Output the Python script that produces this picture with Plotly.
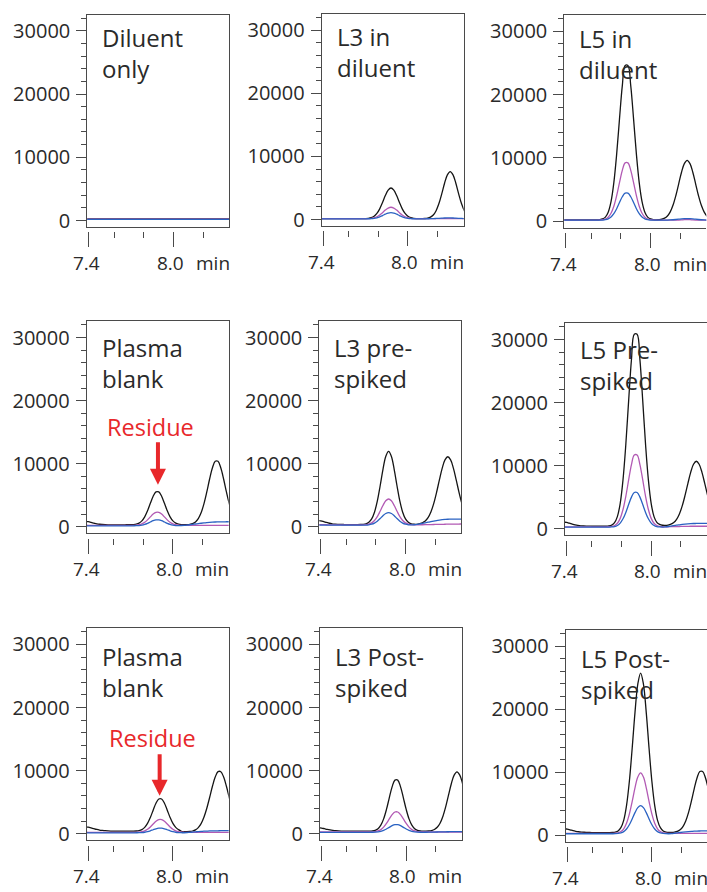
import plotly.graph_objects as go

# ---------------- data ----------------
time_min = [7.38, 7.40, 7.42, 7.44, 7.46, 7.48, 7.50, 7.52, 7.54, 7.56,
            7.58, 7.60, 7.62, 7.64, 7.66, 7.68, 7.70, 7.72, 7.74, 7.76,
            7.78, 7.80, 7.82, 7.84, 7.86, 7.88, 7.90, 7.92, 7.94, 7.96,
            7.98, 8.00, 8.02, 8.04, 8.06, 8.08, 8.10, 8.12, 8.14, 8.16,
            8.18, 8.20, 8.22, 8.24, 8.26, 8.28, 8.30, 8.32, 8.34, 8.36,
            8.38, 8.40, 8.42]

panel_titles = ["Diluent<br>only", "L3 in<br>diluent", "L5 in<br>diluent",
                "Plasma<br>blank", "L3 pre-<br>spiked", "L5 Pre-<br>spiked",
                "Plasma<br>blank", "L3 Post-<br>spiked", "L5 Post-<br>spiked"]

y_tick_values = [0, 10000, 20000, 30000]
y_tick_labels = ["0", "10000", "20000", "30000"]
x_major_ticks = [7.4, 8.0]
x_tick_labels = ["7.4", "8.0"]
x_minor_ticks = [7.58, 7.79, 8.21]
x_unit = "min"
residue_label = "Residue"

# Row 1 ---------------------------------------------------------------
diluent_only_black = [250, 255, 245, 250, 260, 250, 245, 255, 250, 245,
                      250, 260, 255, 250, 245, 250, 255, 250, 260, 255,
                      250, 245, 250, 255, 260, 250, 245, 250, 255, 250,
                      245, 250, 260, 255, 250, 245, 250, 255, 250, 260,
                      255, 250, 245, 250, 255, 250, 260, 255, 250, 245,
                      250, 255, 250]
diluent_only_purple = [215, 220, 215, 210, 215, 220, 215, 210, 220, 215,
                       210, 215, 220, 215, 210, 215, 220, 215, 210, 215,
                       220, 215, 210, 215, 220, 215, 210, 215, 220, 215,
                       210, 215, 220, 215, 210, 215, 220, 215, 210, 215,
                       220, 215, 210, 215, 220, 215, 210, 215, 220, 215,
                       210, 215, 220]
diluent_only_blue = [190, 185, 190, 195, 190, 185, 190, 195, 190, 185,
                     190, 195, 190, 185, 190, 195, 190, 185, 190, 195,
                     190, 185, 190, 195, 190, 185, 190, 195, 190, 185,
                     190, 195, 190, 185, 190, 195, 190, 185, 190, 195,
                     190, 185, 190, 195, 190, 185, 190, 195, 190, 185,
                     190, 195, 190]

l3_diluent_black = [150, 150, 150, 150, 150, 150, 150, 150, 150, 150,
                    150, 150, 150, 150, 150, 154, 165, 201, 300, 523,
                    970, 1702, 2706, 3797, 4665, 5000, 4665, 3797, 2706, 1702,
                    970, 523, 300, 201, 165, 154, 156, 172, 228, 381,
                    724, 1409, 2534, 4076, 5752, 7086, 7600, 7086, 5752, 4076,
                    2534, 1409, 724]
l3_diluent_purple = [150, 150, 150, 150, 150, 150, 150, 150, 150, 150,
                     150, 150, 150, 150, 150, 151, 155, 169, 206, 289,
                     454, 726, 1099, 1504, 1826, 1950, 1826, 1504, 1099, 726,
                     454, 289, 206, 169, 155, 151, 150, 150, 150, 150,
                     150, 150, 150, 150, 150, 150, 150, 150, 150, 150,
                     150, 150, 150]
l3_diluent_blue = [120, 120, 120, 120, 120, 120, 120, 120, 120, 120,
                   120, 120, 120, 120, 120, 121, 123, 130, 150, 195,
                   286, 434, 636, 857, 1032, 1100, 1032, 857, 636, 434,
                   286, 195, 150, 130, 123, 121, 122, 125, 130, 140,
                   156, 177, 204, 232, 255, 268, 268, 255, 232, 204,
                   177, 156, 140]

l5_diluent_black = [200, 200, 200, 200, 200, 200, 200, 200, 200, 200,
                    200, 200, 200, 237, 349, 647, 1418, 3083, 6089, 10587,
                    16129, 21372, 24603, 24603, 21372, 16129, 10587, 6089, 3083, 1418,
                    647, 349, 240, 211, 237, 303, 473, 820, 1469, 2541,
                    4063, 5906, 7729, 9092, 9600, 9092, 7729, 5906, 4063, 2541,
                    1469, 820, 473]
l5_diluent_purple = [180, 180, 180, 180, 180, 180, 180, 180, 180, 180,
                     180, 180, 180, 194, 235, 346, 631, 1247, 2360, 4026,
                     6077, 8018, 9214, 9214, 8018, 6077, 4026, 2360, 1247, 631,
                     346, 235, 194, 180, 180, 180, 180, 180, 180, 180,
                     180, 180, 200, 230, 240, 230, 200, 180, 180, 180,
                     180, 180, 180]
l5_diluent_blue = [150, 150, 150, 150, 150, 150, 150, 150, 150, 150,
                   150, 150, 150, 157, 176, 228, 363, 655, 1181, 1968,
                   2938, 3856, 4422, 4422, 3856, 2938, 1968, 1181, 655, 363,
                   228, 176, 157, 152, 152, 155, 162, 175, 196, 227,
                   267, 313, 357, 389, 400, 389, 357, 313, 267, 227,
                   196, 175, 162]

# Row 2 ---------------------------------------------------------------
plasma_blank_a_black = [850, 800, 700, 580, 470, 400, 360, 330, 310, 300,
                        300, 300, 300, 310, 315, 320, 328, 352, 415, 580,
                        935, 1576, 2535, 3717, 4836, 5525, 5525, 4836, 3717, 2535,
                        1576, 935, 580, 415, 352, 334, 342, 388, 504, 769,
                        1299, 2217, 3635, 5481, 7531, 9316, 10377, 10377, 9316, 7531,
                        5481, 3635, 2217]
plasma_blank_a_purple = [240, 235, 230, 225, 220, 220, 220, 220, 220, 220,
                         220, 220, 220, 220, 220, 220, 223, 233, 258, 323,
                         464, 718, 1098, 1566, 2009, 2282, 2282, 2009, 1566, 1098,
                         718, 464, 323, 258, 233, 223, 220, 220, 220, 220,
                         220, 220, 220, 220, 220, 220, 220, 220, 220, 220,
                         220, 220, 220]
plasma_blank_a_blue = [150, 150, 150, 150, 150, 150, 150, 150, 150, 150,
                       150, 150, 150, 150, 150, 150, 151, 156, 167, 197,
                       260, 375, 547, 759, 959, 1083, 1083, 959, 759, 547,
                       375, 260, 197, 180, 200, 230, 270, 320, 380, 440,
                       500, 560, 620, 670, 710, 740, 760, 775, 785, 790,
                       795, 800, 800]

l3_pre_black = [1000, 940, 820, 680, 560, 470, 420, 390, 370, 360,
                350, 350, 350, 350, 350, 359, 385, 472, 710, 1243,
                2310, 4062, 6463, 9073, 11150, 11950, 11150, 9073, 6463, 4062,
                2310, 1243, 710, 472, 397, 394, 494, 635, 914, 1449,
                2347, 3674, 5418, 7387, 9249, 10608, 11100, 10608, 9249, 7387,
                5418, 3674, 2347]
l3_pre_purple = [350, 340, 330, 320, 310, 300, 300, 300, 300, 300,
                 300, 300, 300, 300, 300, 303, 312, 343, 427, 616,
                 993, 1612, 2461, 3383, 4117, 4400, 4117, 3383, 2461, 1612,
                 993, 616, 427, 343, 312, 303, 310, 320, 330, 340,
                 350, 360, 370, 380, 390, 400, 410, 420, 425, 430,
                 435, 440, 440]
l3_pre_blue = [250, 250, 250, 250, 250, 250, 250, 250, 250, 250,
               250, 250, 250, 250, 250, 252, 256, 271, 312, 404,
               588, 890, 1304, 1754, 2112, 2250, 2112, 1754, 1304, 890,
               588, 404, 312, 290, 320, 370, 450, 530, 620, 720,
               820, 910, 990, 1060, 1120, 1160, 1190, 1200, 1210, 1210,
               1210, 1200, 1200]

l5_pre_black = [1050, 1000, 880, 740, 620, 530, 470, 440, 420, 410,
                400, 400, 400, 400, 400, 400, 447, 586, 958, 1919,
                3996, 7747, 13358, 20271, 26812, 30842, 30842, 26812, 20271, 13358,
                7747, 3996, 1919, 1008, 686, 558, 534, 590, 724, 990,
                1500, 2356, 3621, 5284, 7161, 8935, 10231, 10700, 10231, 8935,
                7161, 5284, 3621]
l5_pre_purple = [300, 300, 300, 300, 300, 300, 300, 300, 300, 300,
                 300, 300, 300, 300, 300, 300, 317, 370, 509, 868,
                 1646, 3049, 5149, 7736, 10183, 11691, 11691, 10183, 7736, 5149,
                 3049, 1646, 868, 509, 370, 317, 310, 320, 330, 340,
                 350, 360, 370, 380, 390, 400, 400, 400, 400, 400,
                 400, 400, 400]
l5_pre_blue = [250, 250, 250, 250, 250, 250, 250, 250, 250, 250,
               250, 250, 250, 250, 250, 250, 258, 284, 351, 524,
               900, 1577, 2591, 3840, 5021, 5749, 5749, 5021, 3840, 2591,
               1577, 900, 524, 351, 284, 258, 300, 360, 430, 500,
               570, 630, 690, 740, 780, 810, 830, 840, 850, 850,
               850, 850, 850]

# Row 3 ---------------------------------------------------------------
plasma_blank_b_black = [1100, 1050, 930, 800, 680, 590, 530, 480, 450, 430,
                        420, 410, 400, 400, 400, 400, 400, 408, 431, 494,
                        655, 1003, 1632, 2574, 3733, 4830, 5506, 5506, 4830, 3733,
                        2574, 1632, 1003, 655, 394, 331, 326, 353, 435, 618,
                        976, 1603, 2606, 3996, 5704, 7480, 8975, 9834, 9834, 8975,
                        7480, 5704, 3996]
plasma_blank_b_purple = [240, 230, 225, 220, 220, 220, 220, 220, 220, 220,
                         220, 220, 220, 220, 220, 220, 220, 223, 232, 257,
                         320, 458, 706, 1077, 1534, 1967, 2233, 2233, 1967, 1534,
                         1077, 706, 458, 320, 257, 232, 223, 220, 220, 220,
                         220, 220, 220, 220, 220, 220, 220, 220, 220, 220,
                         220, 220, 220]
plasma_blank_b_blue = [150, 150, 150, 150, 150, 150, 150, 150, 150, 150,
                       150, 150, 150, 150, 150, 150, 150, 150, 155, 164,
                       187, 237, 328, 464, 631, 789, 887, 887, 789, 631,
                       464, 328, 237, 187, 164, 155, 180, 220, 260, 300,
                       340, 370, 400, 420, 440, 450, 460, 470, 480, 480,
                       490, 490, 490]

l3_post_black = [950, 900, 800, 690, 600, 530, 480, 450, 430, 420,
                 410, 400, 400, 400, 400, 400, 400, 400, 412, 450,
                 549, 804, 1357, 2355, 3849, 5688, 7429, 8502, 8502, 7429,
                 5688, 3849, 2355, 1357, 804, 549, 450, 412, 411, 437,
                 503, 673, 1020, 1669, 2741, 4263, 6106, 7929, 9292, 9800,
                 9292, 7929, 6106]
l3_post_purple = [300, 290, 285, 280, 280, 280, 280, 280, 280, 280,
                  280, 280, 280, 280, 280, 280, 280, 280, 285, 299,
                  338, 438, 654, 1043, 1626, 2344, 3023, 3442, 3442, 3023,
                  2344, 1626, 1043, 654, 438, 338, 299, 285, 280, 280,
                  280, 280, 280, 280, 280, 280, 280, 280, 280, 280,
                  280, 280, 280]
l3_post_blue = [230, 230, 230, 230, 230, 230, 230, 230, 230, 230,
                230, 230, 230, 230, 230, 230, 230, 230, 232, 237,
                252, 290, 373, 522, 744, 1018, 1278, 1438, 1438, 1278,
                1018, 744, 522, 373, 290, 252, 237, 232, 240, 250,
                260, 270, 280, 290, 300, 310, 320, 330, 340, 350,
                350, 350, 350]

l5_post_black = [1050, 990, 870, 740, 640, 570, 520, 490, 470, 450,
                 440, 430, 430, 430, 430, 430, 430, 450, 506, 696,
                 1214, 2378, 4706, 8526, 13763, 19456, 23984, 25730, 23984, 19456,
                 13763, 8526, 4706, 2378, 1214, 696, 506, 457, 472, 516,
                 626, 881, 1391, 2273, 3635, 5409, 7379, 9094, 10113, 10113,
                 9094, 7379, 5409]
l5_post_purple = [300, 300, 300, 300, 300, 300, 300, 300, 300, 300,
                  300, 300, 300, 300, 300, 300, 300, 308, 329, 401,
                  598, 1039, 1922, 3372, 5359, 7519, 9238, 9900, 9238, 7519,
                  5359, 3372, 1922, 1039, 598, 401, 329, 308, 300, 300,
                  300, 300, 300, 300, 300, 300, 300, 300, 300, 300,
                  300, 300, 300]
l5_post_blue = [250, 250, 250, 250, 250, 250, 250, 250, 250, 250,
                250, 250, 250, 250, 250, 250, 250, 254, 263, 297,
                388, 593, 1002, 1674, 2595, 3596, 4393, 4700, 4393, 3596,
                2595, 1674, 1002, 593, 388, 297, 263, 254, 280, 330,
                390, 450, 510, 560, 600, 630, 660, 680, 690, 700,
                700, 700, 700]

# residue markers (panel index, label x/y, arrow x, arrow tail y, arrow tip y)
residue_panels = [4, 7]
residue_label_x = [7.838, 7.853]
residue_label_y = [15880, 15100]
residue_arrow_x = [7.894, 7.906]
residue_arrow_tail = [13630, 12850]
residue_arrow_tip = [6670, 6020]

panel_series = [
    (diluent_only_black, diluent_only_purple, diluent_only_blue),
    (l3_diluent_black, l3_diluent_purple, l3_diluent_blue),
    (l5_diluent_black, l5_diluent_purple, l5_diluent_blue),
    (plasma_blank_a_black, plasma_blank_a_purple, plasma_blank_a_blue),
    (l3_pre_black, l3_pre_purple, l3_pre_blue),
    (l5_pre_black, l5_pre_purple, l5_pre_blue),
    (plasma_blank_b_black, plasma_blank_b_purple, plasma_blank_b_blue),
    (l3_post_black, l3_post_purple, l3_post_blue),
    (l5_post_black, l5_post_purple, l5_post_blue),
]

# ---------------- layout geometry (pixels) ----------------
W, H = 707, 892
# (left, top, bottom) of each panel box in pixels
panel_box = [
    (87.3, 14.7, 228.7), (321.7, 14.0, 227.7), (564.3, 15.3, 229.3),
    (86.7, 324.0, 537.3), (319.3, 324.0, 537.3), (565.0, 326.0, 539.3),
    (86.7, 633.3, 846.7), (320.0, 633.3, 846.7), (565.7, 635.0, 848.3),
]
PANEL_W = 142.0
PX_PER_MIN = 141.0
TICK74_OFFSET = 1.6
Y_RANGE = [-1000, 32550]
title_yshift = [-4.5, -7.3, -10.0]

FONT = "Open Sans"
TEXT_COLOR = "#2a2a2a"
AXIS_COLOR = "#4a4a4a"
BLACK = "#151515"
PURPLE = "#b25ab4"
BLUE = "#2a62c2"
RED = "#e8282b"

fig = go.Figure()
annotations = []
layout = dict(
    width=W, height=H,
    margin=dict(l=0, r=0, t=0, b=0),
    paper_bgcolor="white", plot_bgcolor="white",
    showlegend=False,
    font=dict(family=FONT, color=TEXT_COLOR),
)

for i, (series, box) in enumerate(zip(panel_series, panel_box), start=1):
    sfx = "" if i == 1 else str(i)
    left, top, bottom = box
    col = (i - 1) % 3
    row = (i - 1) // 3
    right = min(left + PANEL_W, W)
    x0 = 7.4 - TICK74_OFFSET / PX_PER_MIN
    x1 = x0 + (right - left) / PX_PER_MIN
    xdom = [left / W, right / W]
    ydom = [1 - bottom / H, 1 - top / H]

    for vals, color in zip(series, (BLACK, PURPLE, BLUE)):
        fig.add_trace(go.Scatter(
            x=time_min, y=vals, mode="lines",
            line=dict(color=color, width=1.3, shape="spline"),
            xaxis="x" + sfx, yaxis="y" + sfx, hoverinfo="skip",
        ))

    tk = str(i + 9)
    # empty trace so that the detached tick bar axis gets drawn
    fig.add_trace(go.Scatter(x=[], y=[], mode="lines", xaxis="x" + tk,
                             yaxis="y" + sfx, hoverinfo="skip"))

    layout["xaxis" + sfx] = dict(
        domain=xdom, range=[x0, x1], anchor="y" + sfx,
        showline=True, linecolor=AXIS_COLOR, linewidth=1, mirror=True,
        ticks="", showticklabels=False, showgrid=False, zeroline=False,
    )
    layout["yaxis" + sfx] = dict(
        domain=ydom, range=Y_RANGE, anchor="x" + sfx,
        showline=True, linecolor=AXIS_COLOR, linewidth=1,
        mirror=(col < 2),
        tickmode="array", tickvals=y_tick_values, ticktext=y_tick_labels,
        ticks="outside", ticklen=10, tickwidth=1, tickcolor=AXIS_COLOR,
        tickfont=dict(family=FONT, size=20, color=TEXT_COLOR),
        ticklabelstandoff=2,
        minor=dict(ticks="outside", ticklen=5, tickwidth=1, tickcolor=AXIS_COLOR,
                   tick0=0, dtick=2000),
        showgrid=False, zeroline=False,
    )
    # detached time tick bar below the box
    layout["xaxis" + tk] = dict(
        overlaying="x" + sfx, anchor="free",
        position=1 - (bottom + 4.5) / H,
        range=[x0, x1], showline=False, showgrid=False, zeroline=False,
        tickmode="array", tickvals=x_major_ticks, ticks="outside",
        ticklen=15, tickwidth=1, tickcolor=AXIS_COLOR, showticklabels=False,
        minor=dict(ticks="outside", tickmode="array", tickvals=x_minor_ticks,
                   ticklen=6, tickwidth=1, tickcolor=AXIS_COLOR),
    )

    # panel title
    annotations.append(dict(
        text=panel_titles[i - 1], xref="x" + sfx + " domain", yref="y" + sfx + " domain",
        x=0, y=1, xanchor="left", yanchor="top", xshift=13, yshift=title_yshift[row],
        align="left", showarrow=False,
        font=dict(family=FONT, size=24, color=TEXT_COLOR),
    ))
    # time labels
    for val, lab, shift in zip(x_major_ticks, x_tick_labels, (-2, -3.5)):
        annotations.append(dict(
            text=lab, xref="x" + sfx, yref="y" + sfx + " domain",
            x=val, y=0, xanchor="center", yanchor="middle",
            xshift=shift, yshift=-36, showarrow=False,
            font=dict(family=FONT, size=19, color=TEXT_COLOR),
        ))
    annotations.append(dict(
        text=x_unit, xref="x" + sfx, yref="y" + sfx + " domain",
        x=x_major_ticks[1], y=0, xanchor="left", yanchor="middle",
        xshift=20, yshift=-36, showarrow=False,
        font=dict(family=FONT, size=19, color=TEXT_COLOR),
    ))

for p, lx, ly, axx, tail, tip in zip(residue_panels, residue_label_x, residue_label_y,
                                     residue_arrow_x, residue_arrow_tail, residue_arrow_tip):
    sfx = str(p)
    annotations.append(dict(
        text=residue_label, xref="x" + sfx, yref="y" + sfx, x=lx, y=ly,
        xanchor="center", yanchor="middle", showarrow=False,
        font=dict(family=FONT, size=23.5, color=RED),
    ))
    annotations.append(dict(
        text="", xref="x" + sfx, yref="y" + sfx, x=axx, y=tip,
        axref="x" + sfx, ayref="y" + sfx, ax=axx, ay=tail,
        showarrow=True, arrowhead=2, arrowsize=0.8, arrowwidth=4,
        arrowcolor=RED, standoff=0, startstandoff=0,
    ))

layout["annotations"] = annotations
fig.update_layout(**layout)
fig.write_html(
    "out.html",
    config={"displayModeBar": False, "staticPlot": True},
    post_script="document.body.style.margin='0';document.body.style.overflow='hidden';",
)
